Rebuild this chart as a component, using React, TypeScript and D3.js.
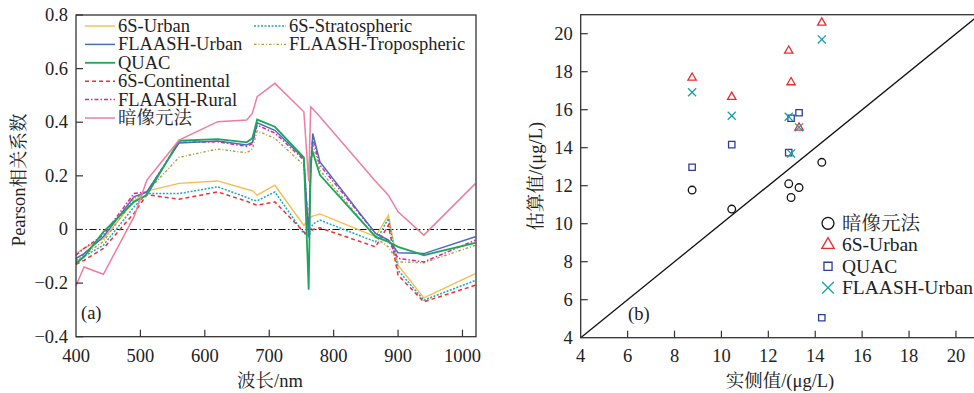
import React from 'react';
import * as d3 from 'd3';

// ---- panel (a): Pearson correlation vs wavelength ----
const wavelengths = [400, 412.5, 442.5, 490, 510, 560, 620, 665, 673.75, 681.25, 708.75, 753.75, 761.25, 764.375, 767.5, 778.75, 865, 885, 900, 940, 1020];

const urban6S = [-0.09, -0.07, -0.035, 0.105, 0.143, 0.172, 0.181, 0.15, 0.145, 0.128, 0.165, 0.015, 0.04, 0.045, 0.05, 0.058, -0.027, 0.053, -0.133, -0.255, -0.165];
const strato6S = [-0.12, -0.1, -0.059, 0.084, 0.134, 0.134, 0.159, 0.12, 0.11, 0.107, 0.14, -0.015, -0.02, 0.0, 0.02, 0.035, -0.046, 0.041, -0.152, -0.264, -0.19];
const continental6S = [-0.13, -0.115, -0.071, 0.06, 0.13, 0.113, 0.14, 0.105, 0.097, 0.09, 0.103, -0.009, -0.025, -0.01, 0.0, 0.006, -0.065, 0.016, -0.17, -0.27, -0.208];
const flaashTropo = [-0.115, -0.095, -0.045, 0.115, 0.14, 0.269, 0.3, 0.286, 0.3, 0.368, 0.34, 0.24, -0.01, 0.23, 0.32, 0.221, -0.03, -0.065, -0.121, -0.124, -0.059];
const flaashRural = [-0.096, -0.071, -0.02, 0.134, 0.14, 0.325, 0.327, 0.31, 0.32, 0.389, 0.36, 0.259, -0.02, 0.25, 0.339, 0.24, -0.015, -0.04, -0.108, -0.121, -0.04];
const flaashUrban = [-0.108, -0.09, -0.027, 0.122, 0.14, 0.323, 0.33, 0.315, 0.325, 0.398, 0.37, 0.265, -0.03, 0.2, 0.358, 0.252, -0.015, -0.04, -0.087, -0.09, -0.027];
const quac = [-0.127, -0.102, -0.009, 0.103, 0.128, 0.331, 0.337, 0.325, 0.34, 0.41, 0.383, 0.269, -0.225, 0.26, 0.29, 0.203, -0.027, -0.046, -0.065, -0.096, -0.05];
const darkPixel = [-0.21, -0.14, -0.167, 0.047, 0.184, 0.333, 0.402, 0.408, 0.433, 0.495, 0.545, 0.439, 0.18, 0.457, 0.45, 0.42, 0.18, 0.128, 0.066, -0.021, 0.171];

const waveTicks = [400, 500, 600, 700, 800, 900, 1000];
const corrTicks = [-0.4, -0.2, 0, 0.2, 0.4, 0.6, 0.8];

// ---- panel (b): estimated vs measured ----
const measured = [8.75, 10.44, 12.87, 12.97, 13.31, 14.28];
const estDark = [11.77, 10.77, 12.1, 11.38, 11.9, 13.23];
const estUrban6S = [17.68, 16.67, 19.1, 17.44, 15.05, 20.58];
const estQuac = [12.97, 14.16, 13.74, 15.55, 15.84, 5.05];
const estFlaash = [16.92, 15.68, 15.63, 13.7, 15.07, 19.7];
const concTicks = [4, 6, 8, 10, 12, 14, 16, 18, 20];

const FONT = '"Liberation Serif", "Times New Roman", "Noto Serif CJK SC", "Noto Sans CJK SC", serif';
const AXIS = '#333';

const lineSeries = [
  { name: '6S-Urban', values: urban6S, color: '#f5bd4f', dash: '', w: 1.4 },
  { name: '6S-Stratospheric', values: strato6S, color: '#1aa8c4', dash: '2,1.5', w: 1.5 },
  { name: '6S-Continental', values: continental6S, color: '#ef2f36', dash: '4,3', w: 1.5 },
  { name: 'FLAASH-Tropospheric', values: flaashTropo, color: '#a3a23c', dash: '2.5,2,1,2', w: 1.4 },
  { name: 'FLAASH-Rural', values: flaashRural, color: '#e0249a', dash: '4,2,1.5,2', w: 1.5 },
  { name: 'FLAASH-Urban', values: flaashUrban, color: '#4a6cc0', dash: '', w: 1.5 },
  { name: 'QUAC', values: quac, color: '#1ba65c', dash: '', w: 1.8 },
  { name: '暗像元法', values: darkPixel, color: '#ee7d9e', dash: '', w: 1.5 },
];

const legendCol1 = ['6S-Urban', 'FLAASH-Urban', 'QUAC', '6S-Continental', 'FLAASH-Rural', '暗像元法'];
const legendCol2 = ['6S-Stratospheric', 'FLAASH-Tropospheric'];

function PanelA() {
  const x = d3.scaleLinear().domain([400, 1021]).range([76, 476]);
  const y = d3.scaleLinear().domain([-0.4, 0.8]).range([336.7, 15]);
  const line = d3.line<number>()
    .x((_, i) => x(wavelengths[i]))
    .y(d => y(d));
  const [x0, x1] = x.range();
  const [y0, y1] = y.range();
  const byName = (n: string) => lineSeries.find(s => s.name === n)!;
  const fmt = (v: number) => (v === 0 ? '0' : v < 0 ? '\u2212' + Math.abs(v).toFixed(1) : v.toFixed(1));

  return (
    <g>
      <line x1={x0} x2={x1} y1={y(0)} y2={y(0)} stroke="#111" strokeWidth={1.1} strokeDasharray="7,2.5,1.5,2.5" />
      {lineSeries.map(s => (
        <path key={s.name} d={line(s.values) || ''} fill="none" stroke={s.color}
          strokeWidth={s.w} strokeDasharray={s.dash} strokeLinejoin="miter" />
      ))}
      <rect x={x0} y={y1} width={x1 - x0} height={y0 - y1} fill="none" stroke={AXIS} strokeWidth={1.3} />
      {waveTicks.map(t => (
        <g key={t}>
          {t > 400 && <line x1={x(t)} x2={x(t)} y1={y0} y2={y0 - 7} stroke={AXIS} strokeWidth={1.2} />}
          <text x={x(t)} y={y0 + 25} textAnchor="middle" fontSize={18.5}>{t}</text>
        </g>
      ))}
      {corrTicks.map(t => (
        <g key={t}>
          <line x1={x0} x2={x0 + 7} y1={y(t)} y2={y(t)} stroke={AXIS} strokeWidth={1.2} />
          <text x={x0 - 8} y={y(t) + 6} textAnchor="end" fontSize={18.5}>{fmt(t)}</text>
        </g>
      ))}
      <text x={(x0 + x1) / 2 - 6} y={387} textAnchor="middle" fontSize={18.5}>波长/nm</text>
      <text transform={`translate(25,${(y0 + y1) / 2 + 4}) rotate(-90)`} textAnchor="middle" fontSize={18.5}>Pearson相关系数</text>
      <text x={x0 + 5} y={y0 - 18} fontSize={18.5}>(a)</text>
      {legendCol1.map((n, i) => {
        const s = byName(n);
        const ly = 26 + i * 18.4;
        return (
          <g key={n}>
            <line x1={85} x2={115} y1={ly} y2={ly} stroke={s.color} strokeWidth={s.w} strokeDasharray={s.dash} />
            <text x={118} y={ly + 6} fontSize={18.5}>{n}</text>
          </g>
        );
      })}
      {legendCol2.map((n, i) => {
        const s = byName(n);
        const ly = 26 + i * 18.4;
        return (
          <g key={n}>
            <line x1={254} x2={286} y1={ly} y2={ly} stroke={s.color} strokeWidth={s.w} strokeDasharray={s.dash} />
            <text x={289} y={ly + 6} fontSize={18.5}>{n}</text>
          </g>
        );
      })}
    </g>
  );
}

const pointSeries = [
  { name: '暗像元法', values: estDark, color: '#111', symbol: d3.symbolCircle, size: 46, legend: 2.4 },
  { name: '6S-Urban', values: estUrban6S, color: '#ee2a2f', symbol: d3.symbolTriangle2, size: 50, legend: 2.2 },
  { name: 'QUAC', values: estQuac, color: '#2e3c9e', symbol: d3.symbolSquare2, size: 52, legend: 1.6 },
  { name: 'FLAASH-Urban', values: estFlaash, color: '#1aa0a3', symbol: d3.symbolTimes, size: 44, legend: 2.0 },
];

function PanelB() {
  const x = d3.scaleLinear().domain([4, 21]).range([580.7, 979.4]);
  const y = d3.scaleLinear().domain([4, 21]).range([337.7, 14.7]);
  const [x0, x1] = x.range();
  const [y0, y1] = y.range();
  const diag = d3.line<number>().x(d => x(d)).y(d => y(d));

  return (
    <g>
      <path d={diag([4, 21]) || ''} stroke="#111" strokeWidth={1.3} fill="none" />
      {pointSeries.map(s => {
        const sym = d3.symbol(s.symbol, s.size);
        return s.values.map((v, i) => (
          <path key={s.name + i} d={sym() || ''} transform={`translate(${x(measured[i])},${y(v)})`}
            fill="none" stroke={s.color} strokeWidth={1.3} />
        ));
      })}
      <rect x={x0} y={y1} width={x1 - x0} height={y0 - y1} fill="none" stroke={AXIS} strokeWidth={1.3} />
      {concTicks.map(t => (
        <g key={t}>
          {t > 4 && <line x1={x(t)} x2={x(t)} y1={y0} y2={y0 - 7} stroke={AXIS} strokeWidth={1.2} />}
          <text x={x(t)} y={y0 + 24} textAnchor="middle" fontSize={18.5}>{t}</text>
          {t > 4 && <line x1={x0} x2={x0 + 7} y1={y(t)} y2={y(t)} stroke={AXIS} strokeWidth={1.2} />}
          <text x={x0 - 8} y={y(t) + 6} textAnchor="end" fontSize={18.5}>{t}</text>
        </g>
      ))}
      <text x={780} y={387} textAnchor="middle" fontSize={18.5}>实侧值/(μg/L)</text>
      <text transform={`translate(542,${(y0 + y1) / 2}) rotate(-90)`} textAnchor="middle" fontSize={18.5}>估算值/(μg/L)</text>
      <text x={628} y={320} fontSize={18.5}>(b)</text>
      {pointSeries.map((s, i) => {
        const ly = 223.3 + i * 21.5;
        const sym = d3.symbol(s.symbol, s.size * s.legend);
        return (
          <g key={s.name}>
            <path d={sym() || ''} transform={`translate(828,${ly})`} fill="none" stroke={s.color} strokeWidth={1.3} />
            <text x={842} y={ly + 6.5} fontSize={19.5}>{s.name}</text>
          </g>
        );
      })}
    </g>
  );
}

export default function App() {
  return (
    <svg width={974} height={393} style={{ position: 'absolute', left: 0, top: 0, background: '#fff' }}
      fontFamily={FONT} fill="#222">
      <PanelA />
      <PanelB />
    </svg>
  );
}
